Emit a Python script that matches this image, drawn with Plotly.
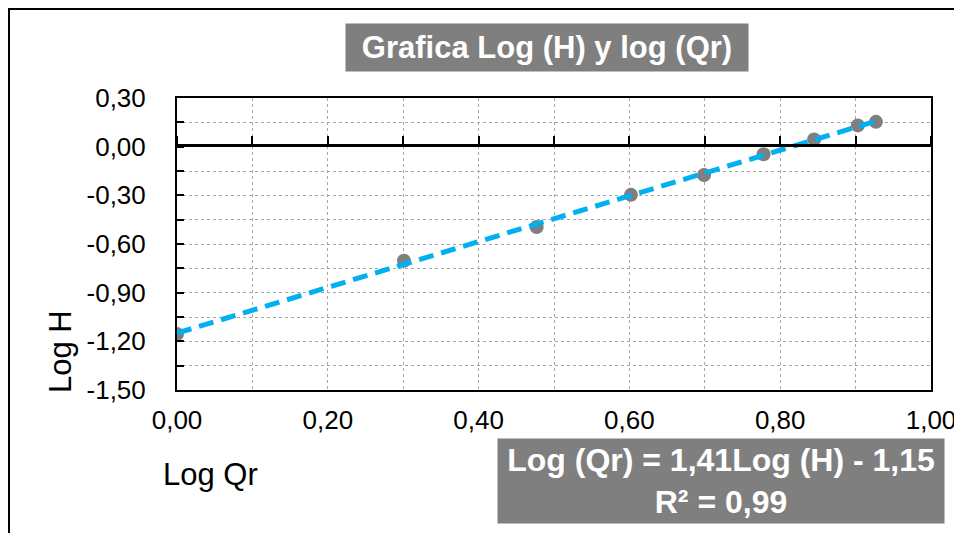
import numpy as np
import plotly.graph_objects as go

# Data
log_qr = [0.0, 0.301, 0.477, 0.602, 0.699, 0.778, 0.845, 0.903, 0.927]
log_h = [-1.155, -0.703, -0.495, -0.297, -0.175, -0.047, 0.044, 0.131, 0.153]

title_text = "Grafica Log (H) y log (Qr)"
x_title = "Log Qr"
y_title = "Log H"
eq_text = "Log (Qr) = 1,41Log (H) - 1,15<br>R² = 0,99"

x_range = [0, 1.0]
y_range = [-1.5, 0.3]
y_ticks = [-1.5, -1.2, -0.9, -0.6, -0.3, 0.0, 0.3]
y_tick_labels = ["-1,50", "-1,20", "-0,90", "-0,60", "-0,30", "0,00", "0,30"]

# linear trend of the data
slope, intercept = np.polyfit(log_qr, log_h, 1)
trend_x = [min(log_qr), max(log_qr)]
trend_y = [slope * v + intercept for v in trend_x]

OFF = 8  # page body margin
W, H = 962 - OFF, 533 - OFF
# plot area in screen pixels: left 177, right 931, top 98, bottom 390
L, R, T, B = 177 - OFF, 962 - 931, 98 - OFF, 533 - 390
pw = W - L - R
ph = H - T - B

zero_frac = (0 - y_range[0]) / (y_range[1] - y_range[0])


def px(xs):
    return (xs - OFF - L) / pw


def py(ys):
    return (H - B - (ys - OFF)) / ph


fig = go.Figure()
fig.add_trace(go.Scatter(x=log_qr, y=log_h, mode="markers",
                         marker=dict(color="#7f7f7f", size=14),
                         showlegend=False, hoverinfo="x+y"))
fig.add_trace(go.Scatter(x=trend_x, y=trend_y, mode="lines",
                         line=dict(color="#00b0f0", width=5, dash="15px,8px"),
                         showlegend=False, hoverinfo="skip"))
# invisible trace for the zero-crossing x axis (x2 / y2 subplot ending at y=0)
fig.add_trace(go.Scatter(x=x_range, y=[0, 1], xaxis="x2", yaxis="y2",
                         mode="lines", line=dict(width=0), opacity=0,
                         showlegend=False, hoverinfo="skip"))

grid = dict(gridcolor="#a6a6a6", gridwidth=1, griddash="dot")

fig.update_layout(
    width=W, height=H,
    margin=dict(l=L, r=R, t=T, b=B, autoexpand=False),
    paper_bgcolor="white", plot_bgcolor="rgba(0,0,0,0)",
    separators=",.",
    font=dict(family="Arial, Liberation Sans, sans-serif", color="black", size=26),
    xaxis=dict(range=x_range, dtick=0.2, tick0=0, tickformat=".2f",
               showline=True, linecolor="black", linewidth=2, mirror=True,
               ticks="", showgrid=True, zeroline=False,
               minor=dict(dtick=0.1, showgrid=True, **grid), **grid,
               tickfont=dict(size=26), ticklabelstandoff=6),
    xaxis2=dict(range=x_range, domain=[0, 1], anchor="y2",
                side="top", showline=True, linecolor="black", linewidth=2.5,
                showticklabels=False, showgrid=False, zeroline=False,
                ticks="outside", ticklen=8, tickwidth=2, tickcolor="black",
                dtick=0.2, tick0=0,
                minor=dict(dtick=0.1, ticks="outside", ticklen=8, tickwidth=2,
                           tickcolor="black", showgrid=False)),
    yaxis2=dict(range=[0, 1], domain=[0, zero_frac], anchor="x2",
                visible=False, showgrid=False, zeroline=False),
    yaxis=dict(range=y_range, tickvals=y_ticks, ticktext=y_tick_labels,
               showline=True, linecolor="black", linewidth=2, mirror=True,
               ticks="inside", ticklen=7, tickwidth=2, tickcolor="black",
               showgrid=True, zeroline=False,
               minor=dict(dtick=0.15, tick0=0, showgrid=True, ticks="inside", ticklen=7,
                          tickwidth=2, tickcolor="black", **grid),
               **grid, tickfont=dict(size=26), ticklabelstandoff=24),
    shapes=[dict(type="rect", xref="paper", yref="paper",
                 x0=px(9), x1=px(990), y0=py(580), y1=py(9),
                 line=dict(color="black", width=2), layer="below")],
    annotations=[
        dict(text="<b>" + title_text + "</b>", xref="paper", yref="paper",
             x=px(547), y=py(47.5), xanchor="center", yanchor="middle",
             showarrow=False, bgcolor="#7f7f7f", width=400, height=45,
             font=dict(color="white", size=31)),
        dict(text=y_title, xref="paper", yref="paper", x=px(60), y=py(352),
             xanchor="center", yanchor="middle", textangle=-90,
             showarrow=False, font=dict(size=31)),
        dict(text=x_title, xref="paper", yref="paper", x=px(210), y=py(474),
             xanchor="center", yanchor="middle", showarrow=False,
             font=dict(size=31)),
        dict(text="<b>" + eq_text + "</b>", xref="paper", yref="paper",
             x=px(721), y=py(481), xanchor="center", yanchor="middle",
             showarrow=False, bgcolor="#7f7f7f", width=444, height=82,
             font=dict(color="white", size=32)),
    ],
)

fig.write_html("out.html")
